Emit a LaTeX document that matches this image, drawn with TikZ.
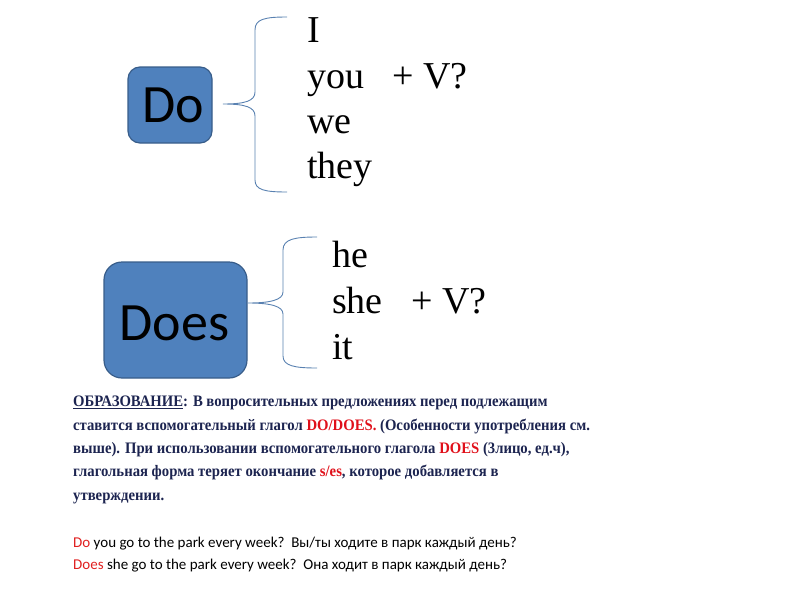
\documentclass[tikz,border=0pt]{standalone}
\usepackage{fontspec}
\setmainfont{Liberation Serif}
\newfontfamily\calibri{Carlito}
\definecolor{boxfill}{HTML}{4F81BD}
\definecolor{boxedge}{HTML}{385D8A}
\definecolor{navy}{RGB}{28,36,80}
\definecolor{redtxt}{HTML}{E0101A}
\definecolor{exred}{HTML}{E02020}
\tikzset{
  verbbox/.style={draw=boxedge, line width=1.2pt, fill=boxfill, rounded corners=#1, inner sep=0pt},
  bracepath/.style={draw=boxfill!80!gray, line width=0.9pt},
  pron/.style={anchor=base west, inner sep=0pt, font=\fontsize{38}{46}\selectfont},
  para/.style={anchor=base west, inner sep=0pt, align=left, text=navy, font=\fontsize{16}{23.3}\selectfont\bfseries},
  expl/.style={anchor=base west, inner sep=0pt, font=\calibri\fontsize{15}{20}\selectfont},
}
\begin{document}
\begin{tikzpicture}[x=1pt,y=-1pt]
\useasboundingbox (0,0) rectangle (800,600);
% Do box
\node[verbbox=12pt, minimum width=84pt, minimum height=76pt] (do) at (170,105) {};
\node[font=\calibri\fontsize{54}{54}\selectfont, anchor=base, inner sep=0pt] (dotxt) at (do.center) [xshift=3pt, yshift=-17pt] {Do};
% Does box
\node[verbbox=18pt, minimum width=143pt, minimum height=116pt] (does) at (175.5,320) {};
\node[font=\calibri\fontsize{54}{54}\selectfont, anchor=base, inner sep=0pt] (doestxt) at (does.center) [xshift=-1pt, yshift=-20pt] {Does};
% braces
\coordinate (t1) at (223,104);
\coordinate (a1) at (287,17);
\coordinate (b1) at (287,192);
\draw[bracepath] (a1) .. controls (265,17) and (255,19) .. (255,30) -- (255,92)
  .. controls (255,101) and (245,104) .. (t1)
  .. controls (245,104) and (255,107) .. (255,116) -- (255,180)
  .. controls (255,190) and (265,192) .. (b1);
\coordinate (t2) at (248,303);
\coordinate (a2) at (317,237);
\coordinate (b2) at (317,368);
\draw[bracepath] (a2) .. controls (295,237) and (283,239) .. (283,250) -- (283,292)
  .. controls (283,300) and (270,303) .. (t2)
  .. controls (270,303) and (283,306) .. (283,314) -- (283,356)
  .. controls (283,366) and (295,368) .. (b2);
% pronouns group 1
\node[pron] (pI) at (307,42) {I};
\node[pron] (pyou) at (307,88) {you};
\node[pron] (pv1) at (392,88) {+ V?};
\node[pron] (pwe) at (307,133) {we};
\node[pron] (pthey) at (307,178) {they};
% pronouns group 2
\node[pron] (phe) at (332,267) {he};
\node[pron] (pshe) at (332,313) {she};
\node[pron] (pv2) at (411,313) {+ V?};
\node[pron] (pit) at (332,359) {it};
% paragraph (anchored at the baseline of its last line)
\node[para, xscale=0.92, transform shape] (rule) at (73,500) {\underline{ОБРАЗОВАНИЕ}: В вопросительных предложениях перед подлежащим\\
ставится вспомогательный глагол \textcolor{redtxt}{DO/DOES.} (Особенности употребления см.\\
выше). При использовании вспомогательного глагола \textcolor{redtxt}{DOES} (3лицо, ед.ч),\\
глагольная форма теряет окончание \textcolor{redtxt}{s/es}, которое добавляется в\\
утверждении.};
% examples
\node[expl] (ex1) at (73,547) {\textcolor{exred}{Do} you go to the park every week?\ \ Вы/ты ходите в парк каждый день?};
\node[expl] (ex2) at (73,569) {\textcolor{exred}{Does} she go to the park every week?\ \ Она ходит в парк каждый день?};
\end{tikzpicture}
\end{document}
